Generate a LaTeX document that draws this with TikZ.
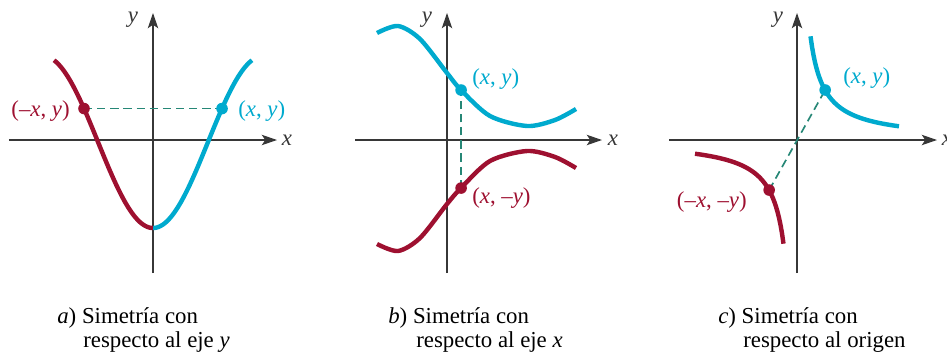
\documentclass[tikz,border=0pt]{standalone}
\usepackage{fontspec}
\setmainfont{Liberation Serif}
\usetikzlibrary{arrows.meta,positioning}
\definecolor{symred}{RGB}{158,16,48}
\definecolor{symcyan}{RGB}{0,170,206}
\definecolor{symteal}{RGB}{38,135,118}
\definecolor{axisgray}{RGB}{55,55,55}
\begin{document}
\begin{tikzpicture}[scale=2.54,
 axis/.style={line width=1.2pt,draw=axisgray,-{Stealth[length=11pt,width=7.5pt,inset=2.5pt]}},
 curve/.style={line width=3.2pt},
 mirror/.style={line width=1.2pt,draw=symteal,dash pattern=on 6pt off 3.5pt},
 lbl/.style={font=\fontsize{16.5}{18}\selectfont,inner sep=0pt},
 captxt/.style={lbl,anchor=base west}]%
% three panels, 1in = 100px of the figure
\global\def\symdot{0.058}
\useasboundingbox (0,0) rectangle (9.47,-3.56);
%
% a) symmetry about the y axis
\draw[axis] (0.09,-1.40)
 --(2.77,-1.40);
\draw[axis] (1.53,-2.73)
 --(1.53,-0.13);
\node[lbl,text=axisgray] (xa) at (2.87,-1.40) {\textit{x}};
\node[lbl,text=axisgray] (ya) at (1.33,-0.20) {\textit{y}};
\draw[curve,symcyan] plot[domain=0:0.99,samples=60]
 ({1.53+\x},{-1.42-0.86*cos(180*\x/1.10)});
\draw[curve,symred] plot[domain=0:0.99,samples=60]
 ({1.53-\x},{-1.42-0.86*cos(180*\x/1.10)});
\coordinate (Pa) at ({1.53+0.69},{-1.42-0.86*cos(180*0.69/1.10)});
\coordinate (Qa) at ({1.53-0.69},{-1.42-0.86*cos(180*0.69/1.10)});
\draw[mirror] (Qa) -- (Pa);
\fill[symcyan] (Pa) circle (\symdot);
\fill[symred] (Qa) circle (\symdot);
\node[lbl,text=symcyan,anchor=west] (La) at (2.38,-1.11) {(\textit{x}, \textit{y})};
\node[lbl,text=symred,anchor=east] (Ma) at (0.70,-1.11) {(–\textit{x}, \textit{y})};
\node[captxt] (capa) at (0.57,-3.23) {\textit{a}) Simetría con};
\node[captxt] (capaa) at (0.83,-3.47) {respecto al eje \textit{y}};
%
% b) symmetry about the x axis
\draw[axis] (3.55,-1.40)
 --(6.02,-1.40);
\draw[axis] (4.47,-2.73)
 --(4.47,-0.13);
\node[lbl,text=axisgray] (xb) at (6.13,-1.40) {\textit{x}};
\node[lbl,text=axisgray] (yb) at (4.27,-0.20) {\textit{y}};
\draw[curve,symcyan] plot[smooth] coordinates {(3.77,-0.33) (3.98,-0.26)
 (4.20,-0.39) (4.47,-0.73) (4.61,-0.90) (4.90,-1.16) (5.27,-1.26)
 (5.55,-1.20) (5.76,-1.09)};
\draw[curve,symred] plot[smooth] coordinates {(3.77,-2.44) (3.98,-2.51)
 (4.20,-2.38) (4.47,-2.04) (4.61,-1.88) (4.90,-1.61) (5.27,-1.51)
 (5.55,-1.57) (5.76,-1.68)};
\coordinate (Pb) at (4.61,-0.90);
\coordinate (Qb) at (4.61,-1.88);
\draw[mirror] (Qb) -- (Pb);
\fill[symcyan] (Pb) circle (\symdot);
\fill[symred] (Qb) circle (\symdot);
\node[lbl,text=symcyan,anchor=west] (Lb) at (4.72,-0.79) {(\textit{x}, \textit{y})};
\node[lbl,text=symred,anchor=west] (Mb) at (4.72,-1.98) {(\textit{x}, –\textit{y})};
\node[captxt] (capb) at (3.88,-3.23) {\textit{b}) Simetría con};
\node[captxt] (capbb) at (4.16,-3.47) {respecto al eje \textit{x}};
%
% c) symmetry about the origin
\draw[axis] (6.69,-1.40)
 --(9.37,-1.40);
\draw[axis] (7.97,-2.73)
 --(7.97,-0.13);
\node[lbl,text=axisgray] (xc) at (9.47,-1.40) {\textit{x}};
\node[lbl,text=axisgray] (yc) at (7.78,-0.20) {\textit{y}};
\draw[curve,symcyan] plot[domain=0.135:1.02,samples=60]
 ({7.97+\x},{-1.40+0.14/\x});
\draw[curve,symred] plot[domain=0.135:1.02,samples=60]
 ({7.97-\x},{-1.40-0.14/\x});
\coordinate (Pc) at (8.25,-0.90);
\coordinate (Qc) at (7.69,-1.90);
\draw[mirror] (Qc) -- (Pc);
\fill[symcyan] (Pc) circle (\symdot);
\fill[symred] (Qc) circle (\symdot);
\node[lbl,text=symcyan,anchor=west] (Lc) at (8.43,-0.78) {(\textit{x}, \textit{y})};
\node[lbl,text=symred,anchor=east] (Mc) at (7.47,-2.02) {(–\textit{x}, –\textit{y})};
\node[captxt] (capc) at (7.18,-3.23) {\textit{c}) Simetría con};
\node[captxt] (capcc) at (7.43,-3.47) {respecto al origen};
\end{tikzpicture}
\end{document}
